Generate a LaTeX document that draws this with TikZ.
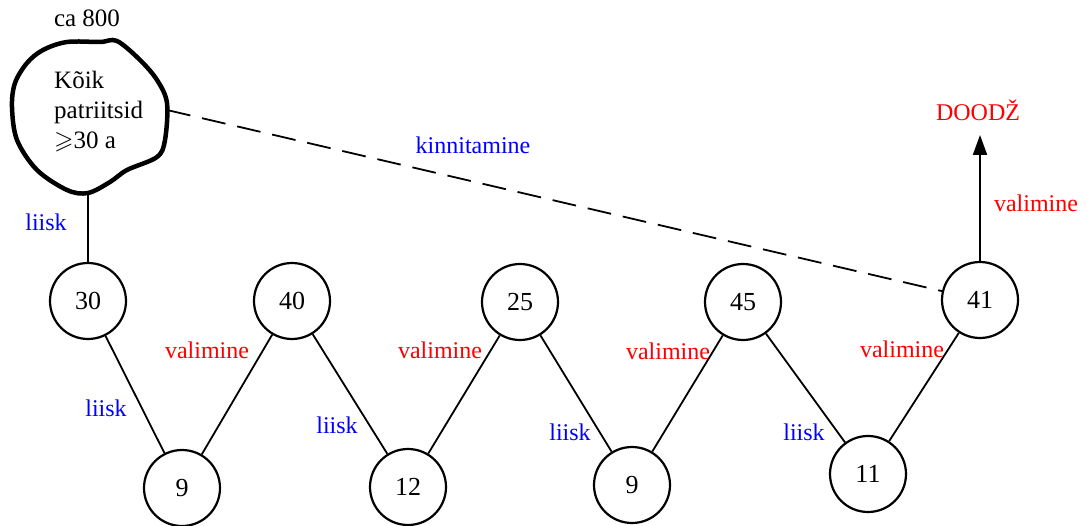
\documentclass[tikz,border=0pt]{standalone}
\usepackage{amssymb}
\usepackage{fontspec}
\setmainfont{Liberation Serif}
\usetikzlibrary{arrows.meta}
\definecolor{lblred}{RGB}{255,0,0}
\definecolor{lblblue}{RGB}{0,0,255}
\tikzset{
  num/.style={circle, draw=black, line width=2.2pt, minimum size=76pt, inner sep=0pt, font=\fontsize{26}{30}\selectfont},
  conn/.style={draw=black, line width=1.8pt},
  redlbl/.style={text=lblred, font=\fontsize{24}{26}\selectfont},
  bluelbl/.style={text=lblblue, font=\fontsize{24}{26}\selectfont},
  plainlbl/.style={text=black, font=\fontsize{25}{30}\selectfont}
}
\begin{document}
\begin{tikzpicture}[x=1pt,y=-1pt]
\useasboundingbox (0,0) rectangle (1086,526);
% blob
\draw[line width=4.5pt, line join=round]
  plot[smooth cycle, tension=0.55] coordinates {
  (43,50) (67,42) (100,42) (117,41) (140,60) (157,80) (167,103)
  (165,140) (157,157) (127,170) (110,182) (88,193) (67,190)
  (37,170) (17,140) (12,107) (15,83) (27,63)};
\coordinate (blobR) at (167,110);
\coordinate (blobB) at (88,193);
\node[plainlbl] (ca) at (87,18) {ca 800};
\node[plainlbl, align=left, anchor=west, inner sep=0pt] (all) at (54,112) {Kõik\\patriitsid\\$\geqslant$30 a};
% circles
\node[num] (c30) at (88,301) {30};
\node[num] (c40) at (292,301) {40};
\node[num] (c25) at (520,302) {25};
\node[num] (c45) at (743,302) {45};
\node[num] (c41) at (980,300) {41};
\node[num] (b9a) at (182,488) {9};
\node[num] (b12) at (408,487) {12};
\node[num] (b9b) at (632,485) {9};
\node[num] (b11) at (868,474) {11};
\coordinate (top) at (980,135);
% connectors
\draw[conn] (blobB) -- (c30);
\draw[conn] (c30) -- (b9a);
\draw[conn] (b9a) -- (c40);
\draw[conn] (c40) -- (b12);
\draw[conn] (b12) -- (c25);
\draw[conn] (c25) -- (b9b);
\draw[conn] (b9b) -- (c45);
\draw[conn] (c45) -- (b11);
\draw[conn] (b11) -- (c41);
\draw[conn, dash pattern=on 24pt off 12pt] (blobR) -- (c41);
\draw[conn, line width=2.2pt, -{Triangle[width=14pt,length=20pt]}] (c41) -- (top);
% labels
\node[bluelbl] (l0) at (46,222) {liisk};
\node[bluelbl] (l1) at (106,408) {liisk};
\node[bluelbl] (l2) at (337,425) {liisk};
\node[bluelbl] (l3) at (570,432) {liisk};
\node[bluelbl] (l4) at (804,432) {liisk};
\node[redlbl] (v1) at (207,350) {valimine};
\node[redlbl] (v2) at (440,350) {valimine};
\node[redlbl] (v3) at (668,351) {valimine};
\node[redlbl] (v4) at (902,349) {valimine};
\node[redlbl] (v5) at (1036,203) {valimine};
\node[redlbl] (dz) at (978,110) {DOODŽ};
\node[bluelbl] (kn) at (473,145) {kinnitamine};
\end{tikzpicture}
\end{document}
